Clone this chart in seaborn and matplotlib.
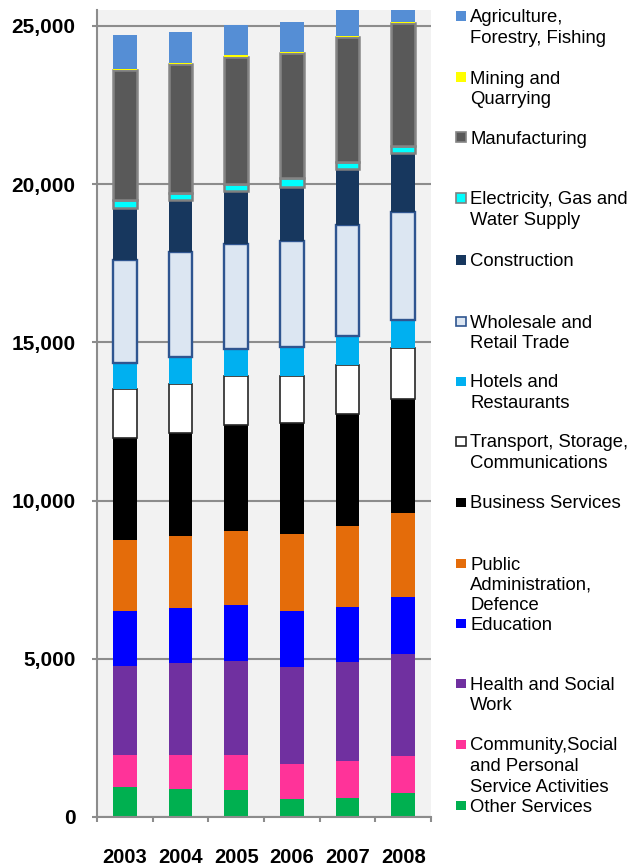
import matplotlib
matplotlib.use("Agg")
import matplotlib.pyplot as plt
from matplotlib.patches import Rectangle
from matplotlib.ticker import FixedLocator
import numpy as np
import pandas as pd
import seaborn as sns

# ---------------- data ----------------
years = ["2003", "2004", "2005", "2006", "2007", "2008"]

# bottom -> top order of the stack
other_services = [940, 885, 865, 580, 600, 760]
community = [1020, 1065, 1105, 1095, 1160, 1170]
health = [2810, 2925, 2970, 3065, 3140, 3215]
education = [1730, 1720, 1750, 1780, 1740, 1800]
public_admin = [2255, 2295, 2340, 2425, 2560, 2655]
business = [3235, 3235, 3350, 3510, 3540, 3625]
transport = [1525, 1560, 1550, 1475, 1560, 1600]
hotels = [825, 855, 875, 935, 905, 885]
wholesale = [3265, 3310, 3310, 3340, 3510, 3415]
construction = [1635, 1650, 1655, 1695, 1770, 1875]
electricity = [250, 230, 235, 300, 230, 220]
manufacturing = [4110, 4065, 4025, 3940, 3930, 3870]
mining = [45, 40, 40, 40, 35, 35]
agriculture = [1060, 970, 950, 960, 1000, 950]

series_names = [
    "Other Services",
    "Community,Social\nand Personal\nService Activities",
    "Health and Social\nWork",
    "Education",
    "Public\nAdministration,\nDefence",
    "Business Services",
    "Transport, Storage,\nCommunications",
    "Hotels and\nRestaurants",
    "Wholesale and\nRetail Trade",
    "Construction",
    "Electricity, Gas and\nWater Supply",
    "Manufacturing",
    "Mining and\nQuarrying",
    "Agriculture,\nForestry, Fishing",
]
series_values = [other_services, community, health, education, public_admin,
                 business, transport, hotels, wholesale, construction,
                 electricity, manufacturing, mining, agriculture]

# styles (face, edge, linewidth)
styles = [
    ("#00b050", "#00b050", 0.0),
    ("#ff3399", "#ff3399", 0.0),
    ("#7030a0", "#7030a0", 0.0),
    ("#0000ff", "#0000ff", 0.0),
    ("#e46c0a", "#e46c0a", 0.0),
    ("#000000", "#000000", 0.0),
    ("#ffffff", "#262626", 1.2),
    ("#00b0f0", "#00b0f0", 0.0),
    ("#dce6f2", "#2f5590", 1.7),
    ("#17375e", "#17375e", 0.0),
    ("#00ffff", "#808080", 1.8),
    ("#595959", "#858585", 1.8),
    ("#ffff00", "#ffff00", 0.0),
    ("#558ed5", "#558ed5", 0.0),
]

# ---------------- figure ----------------
plt.rcParams["font.family"] = ["Liberation Sans", "DejaVu Sans"]
W, H = 632, 866
fig = plt.figure(figsize=(W / 100, H / 100), dpi=100)
ax = fig.add_axes([97 / W, 1 - 817 / H, (431 - 97) / W, (817 - 10) / H])
ax.set_facecolor("#f2f2f2")

bottom = np.zeros(len(years))
for i, vals in enumerate(series_values):
    face, edge, lw = styles[i]
    d = pd.DataFrame({"year": years, "value": vals})
    sns.barplot(data=d, x="year", y="value", ax=ax, color=face,
                saturation=1, width=0.43, errorbar=None,
                edgecolor=edge, linewidth=lw, zorder=3,
                bottom=bottom.copy())
    bottom = bottom + np.array(vals, dtype=float)

ax.set_xlabel("")
ax.set_ylabel("")
ax.set_xlim(-0.5, 5.5)
ax.set_ylim(0, 25505)

grid_c = "#8c8c8c"
yt = [0, 5000, 10000, 15000, 20000, 25000]
ax.yaxis.set_major_locator(FixedLocator(yt))
ax.set_yticklabels([f"{v:,}" for v in yt])
ax.grid(axis="y", color=grid_c, linewidth=1.5, zorder=1)
ax.set_axisbelow(True)
ax.grid(axis="x", visible=False)

ax.tick_params(axis="y", direction="out", length=3.6, width=1.5, color=grid_c,
               pad=12, labelsize=15)
ax.xaxis.set_minor_locator(FixedLocator(np.arange(-0.5, 6.0, 1.0)))
ax.tick_params(axis="x", which="major", length=0, pad=22, labelsize=14.5)
ax.tick_params(axis="x", which="minor", direction="out", length=3.6,
               width=1.5, color=grid_c)
for lab in ax.get_yticklabels() + ax.get_xticklabels():
    lab.set_fontweight("bold")

for s in ["top", "right"]:
    ax.spines[s].set_visible(False)
for s in ["left", "bottom"]:
    ax.spines[s].set_color(grid_c)
    ax.spines[s].set_linewidth(1.5)
    ax.spines[s].set_zorder(4)

# ---------------- legend (top -> bottom) ----------------
marker_y = [16, 77, 137, 198, 260, 321, 381, 441, 502, 563, 623, 683, 744, 805]
line_h = 20.5
fs = 13.3
order = list(range(len(series_names) - 1, -1, -1))
for k, idx in enumerate(order):
    face, edge, lw = styles[idx]
    cy = marker_y[k]
    mlw = 1.2 if lw > 0 else 0.0
    fig.add_artist(Rectangle((456 / W, 1 - (cy + 4.5) / H), 9.5 / W, 9 / H,
                             transform=fig.transFigure, facecolor=face,
                             edgecolor=edge, linewidth=mlw))
    for j, line in enumerate(series_names[idx].split("\n")):
        base = cy + 6.5 + j * line_h
        fig.text(470 / W, 1 - base / H, line, fontsize=fs, va="baseline",
                 ha="left", color="#000000")

fig.savefig("out.png", dpi=100)
